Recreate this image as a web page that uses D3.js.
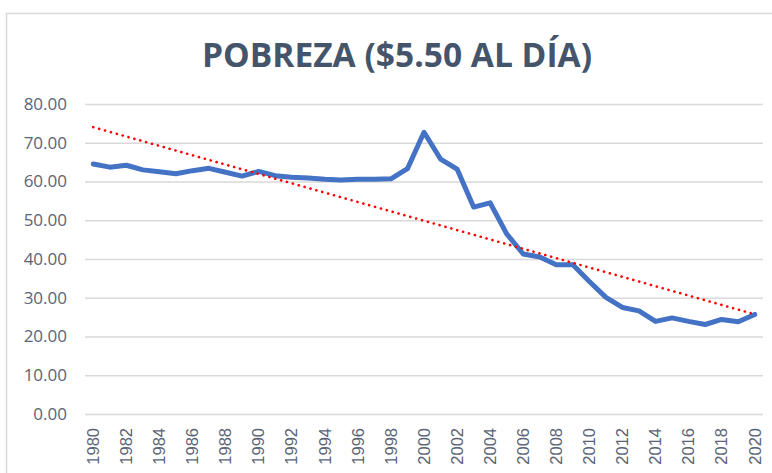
<!DOCTYPE html>
<html>
<head>
<meta charset="utf-8">
<script src="https://cdn.jsdelivr.net/npm/d3@7"></script>
<style>
  body { margin: 0; background: #fff; }
</style>
</head>
<body>
<div id="chart_pobreza"></div>
<script>
// data
var years = d3.range(1980, 2021);
var pobreza = [64.5, 63.7, 64.2, 63.0, 62.5, 62.0, 62.8, 63.4, 62.4, 61.4,
    62.6, 61.5, 61.1, 60.9, 60.6, 60.4, 60.6, 60.6, 60.7, 63.3,
    72.7, 65.8, 63.2, 53.4, 54.5, 46.5, 41.3, 40.5, 38.5, 38.5,
    34.2, 30.1, 27.5, 26.6, 23.9, 24.8, 23.9, 23.1, 24.4, 23.8, 25.7];
var yTicks = [0, 10, 20, 30, 40, 50, 60, 70, 80];
var xTicks = d3.range(1980, 2021, 2);
var title = "POBREZA ($5.50 AL DÍA)";

var data = years.map(function (d, i) { return { year: d, value: pobreza[i] }; });

var W = 772, H = 473;
var margin = { top: 104, right: 9, bottom: 59, left: 85 },
    width = W - margin.left - margin.right,
    height = H - margin.top - margin.bottom;

var svgRoot = d3.select("#chart_pobreza")
    .append("svg")
    .attr("width", W)
    .attr("height", H);

// chart area border
svgRoot.append("rect")
    .attr("x", 6.5).attr("y", 13.5)
    .attr("width", 820).attr("height", 520)
    .attr("fill", "#fff")
    .attr("stroke", "#D9D9D9")
    .attr("stroke-width", 1.5);

// title
svgRoot.append("text")
    .attr("x", 202)
    .attr("y", 67)
    .attr("textLength", 390)
    .attr("lengthAdjust", "spacingAndGlyphs")
    .attr("font-family", "'Open Sans', sans-serif")
    .attr("font-weight", "bold")
    .attr("font-size", 34)
    .attr("fill", "#44546A")
    .text(title);

var svg = svgRoot.append("g")
    .attr("transform", "translate(" + margin.left + "," + margin.top + ")");

// X scale --> categories, points at band centers
var x = d3.scaleBand()
    .domain(years)
    .range([0, width]);
var xc = function (d) { return x(d) + x.bandwidth() / 2; };

// Y scale
var y = d3.scaleLinear()
    .domain([0, 80])
    .range([height, 0]);

// gridlines + y labels
var yAxis = svg.append("g")
    .call(d3.axisLeft(y)
        .tickValues(yTicks)
        .tickSize(-width)
        .tickPadding(18)
        .tickFormat(d3.format(".2f")));
yAxis.select(".domain").remove();
yAxis.selectAll("line")
    .attr("stroke", "#D9D9D9")
    .attr("stroke-width", 1.3);
yAxis.selectAll("text")
    .attr("font-family", "'Open Sans', sans-serif")
    .attr("font-size", 17)
    .attr("fill", "#5A6476");

// x labels, rotated
var xAxis = svg.append("g")
    .attr("transform", "translate(0," + height + ")")
    .call(d3.axisBottom(x).tickValues(xTicks).tickSize(0));
xAxis.select(".domain").remove();
xAxis.selectAll("text")
    .attr("font-family", "'Liberation Sans', Arial, sans-serif")
    .attr("font-size", 16.5)
    .attr("fill", "#5A6476")
    .attr("text-anchor", "end")
    .attr("transform", "rotate(-90)")
    .attr("x", -14)
    .attr("y", 0)
    .attr("dy", "0.35em");

// linear trend (least squares on the series)
var mx = d3.mean(data, function (d) { return d.year; }),
    my = d3.mean(data, function (d) { return d.value; });
var sxy = d3.sum(data, function (d) { return (d.year - mx) * (d.value - my); }),
    sxx = d3.sum(data, function (d) { return (d.year - mx) * (d.year - mx); });
var slope = sxy / sxx, icpt = my - slope * mx;
var trend = [years[0], years[years.length - 1]].map(function (t) {
    return { year: t, value: icpt + slope * t };
});

// Add the line
svg.append("path")
    .datum(data)
    .attr("fill", "none")
    .attr("stroke", "#4472C4")
    .attr("stroke-width", 5)
    .attr("stroke-linejoin", "round")
    .attr("stroke-linecap", "round")
    .attr("d", d3.line()
        .x(function (d) { return xc(d.year) })
        .y(function (d) { return y(d.value) })
    );

// Add the trend line
svg.append("path")
    .datum(trend)
    .attr("fill", "none")
    .attr("stroke", "#FF0000")
    .attr("stroke-width", 2.6)
    .attr("stroke-linecap", "round")
    .attr("stroke-dasharray", "0.1,6")
    .attr("d", d3.line()
        .x(function (d) { return xc(d.year) })
        .y(function (d) { return y(d.value) })
    );
</script>
</body>
</html>
